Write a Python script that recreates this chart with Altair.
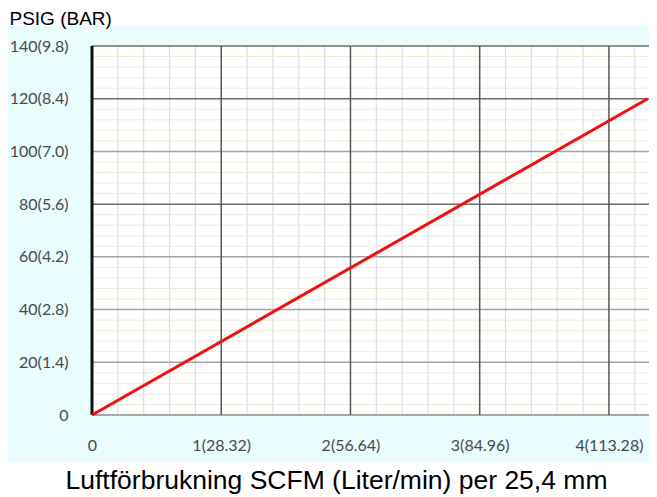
import altair as alt
import pandas as pd

# ---- data ----
x_major = [0, 1, 2, 3, 4]
x_labels = ["0", "1(28.32)", "2(56.64)", "3(84.96)", "4(113.28)"]
y_major = [0, 20, 40, 60, 80, 100, 120, 140]
y_labels = ["0", "20(1.4)", "40(2.8)", "60(4.2)", "80(5.6)", "100(7.0)", "120(8.4)", "140(9.8)"]
x_minor = [0.2, 0.4, 0.6, 0.8, 1.2, 1.4, 1.6, 1.8, 2.2, 2.4, 2.6, 2.8,
           3.2, 3.4, 3.6, 3.8, 4.2]
y_minor = [4, 8, 12, 16, 24, 28, 32, 36, 44, 48, 52, 56, 64, 68, 72, 76,
           84, 88, 92, 96, 104, 108, 112, 116, 124, 128, 132, 136]
y_dark = [80, 120, 140]
y_medium = [20, 40, 60, 100]
flow = [0, 4.3]
pressure = [0, 120]

W, H = 557, 369
xdom = [0, 4.31]
ydom = [0, 140]
xs = alt.Scale(domain=xdom, nice=False, zero=False)
ys = alt.Scale(domain=ydom, nice=False, zero=False)

def expr(vals, labels):
    s = "''"
    for v, l in reversed(list(zip(vals, labels))):
        s = f"datum.value == {v} ? '{l}' : ({s})"
    return s

x_axis = alt.Axis(values=x_major, labelExpr=expr(x_major, x_labels),
                  grid=False, ticks=False, domain=False, zindex=1,
                  labelFont="Lato", labelFontSize=16, labelColor="#4a4a4a",
                  labelPadding=22, labelFlush=False,
                  title="Luftförbrukning SCFM (Liter/min) per 25,4 mm",
                  titleFont="Liberation Sans", titleFontSize=26.5,
                  titleFontWeight="normal", titleColor="#000000",
                  titleX=244, titleY=73, titleAlign="center",
                  titleBaseline="alphabetic")
y_axis = alt.Axis(values=y_major, labelExpr=expr(y_major, y_labels),
                  grid=False, ticks=False, domain=False, zindex=1,
                  labelFont="Lato", labelFontSize=16, labelColor="#4a4a4a",
                  labelPadding=24, labelFlush=False,
                  title="PSIG (BAR)", titleAngle=0,
                  titleFont="Liberation Sans", titleFontSize=19,
                  titleFontWeight="normal", titleColor="#000000",
                  titleX=-83, titleY=-22, titleAlign="left",
                  titleBaseline="alphabetic")

one = pd.DataFrame({"a": [0]})

bg = alt.Chart(one).mark_rect(color="#e9fcfe", clip=False).encode(
    x=alt.value(-84), x2=alt.value(W), y=alt.value(-20), y2=alt.value(416))
plot_bg = alt.Chart(one).mark_rect(color="white").encode(
    x=alt.value(0), x2=alt.value(W), y=alt.value(0), y2=alt.value(H))

def vrules(vals, color, width):
    return alt.Chart(pd.DataFrame({"v": vals})).mark_rule(color=color, strokeWidth=width).encode(
        x=alt.X("v:Q", scale=xs, axis=x_axis))

def hrules(vals, color, width):
    return alt.Chart(pd.DataFrame({"v": vals})).mark_rule(color=color, strokeWidth=width).encode(
        y=alt.Y("v:Q", scale=ys, axis=y_axis))

minor_v = vrules(x_minor, "#dcdcec", 1.2)
minor_h = hrules(y_minor, "#ececd6", 1)
med_h = hrules(y_medium, "#a3a3ab", 1.5)
dark_h = hrules(y_dark, "#6e6e62", 1.5)
zero_h = hrules([0], "#8c8c8c", 1.5)
major_v = vrules([1, 2, 3, 4], "#575757", 1.5)
left_axis = vrules([0], "#111111", 3)

df = pd.DataFrame({"flow": flow, "pressure": pressure})
line = alt.Chart(df).mark_line(color="#f01010", strokeWidth=3).encode(
    x=alt.X("flow:Q", scale=xs, axis=x_axis),
    y=alt.Y("pressure:Q", scale=ys, axis=y_axis),
)

chart = alt.layer(bg, plot_bg, minor_v, minor_h, med_h, dark_h, zero_h, major_v,
                  left_axis, line).properties(
    width=W, height=H,
    autosize=alt.AutoSizeParams(type="none"),
    padding={"left": 84, "top": 38, "right": 0, "bottom": 82},
    background="white",
).configure_view(stroke=None)

chart.save("out.html", embed_options={"renderer": "svg", "actions": False})
